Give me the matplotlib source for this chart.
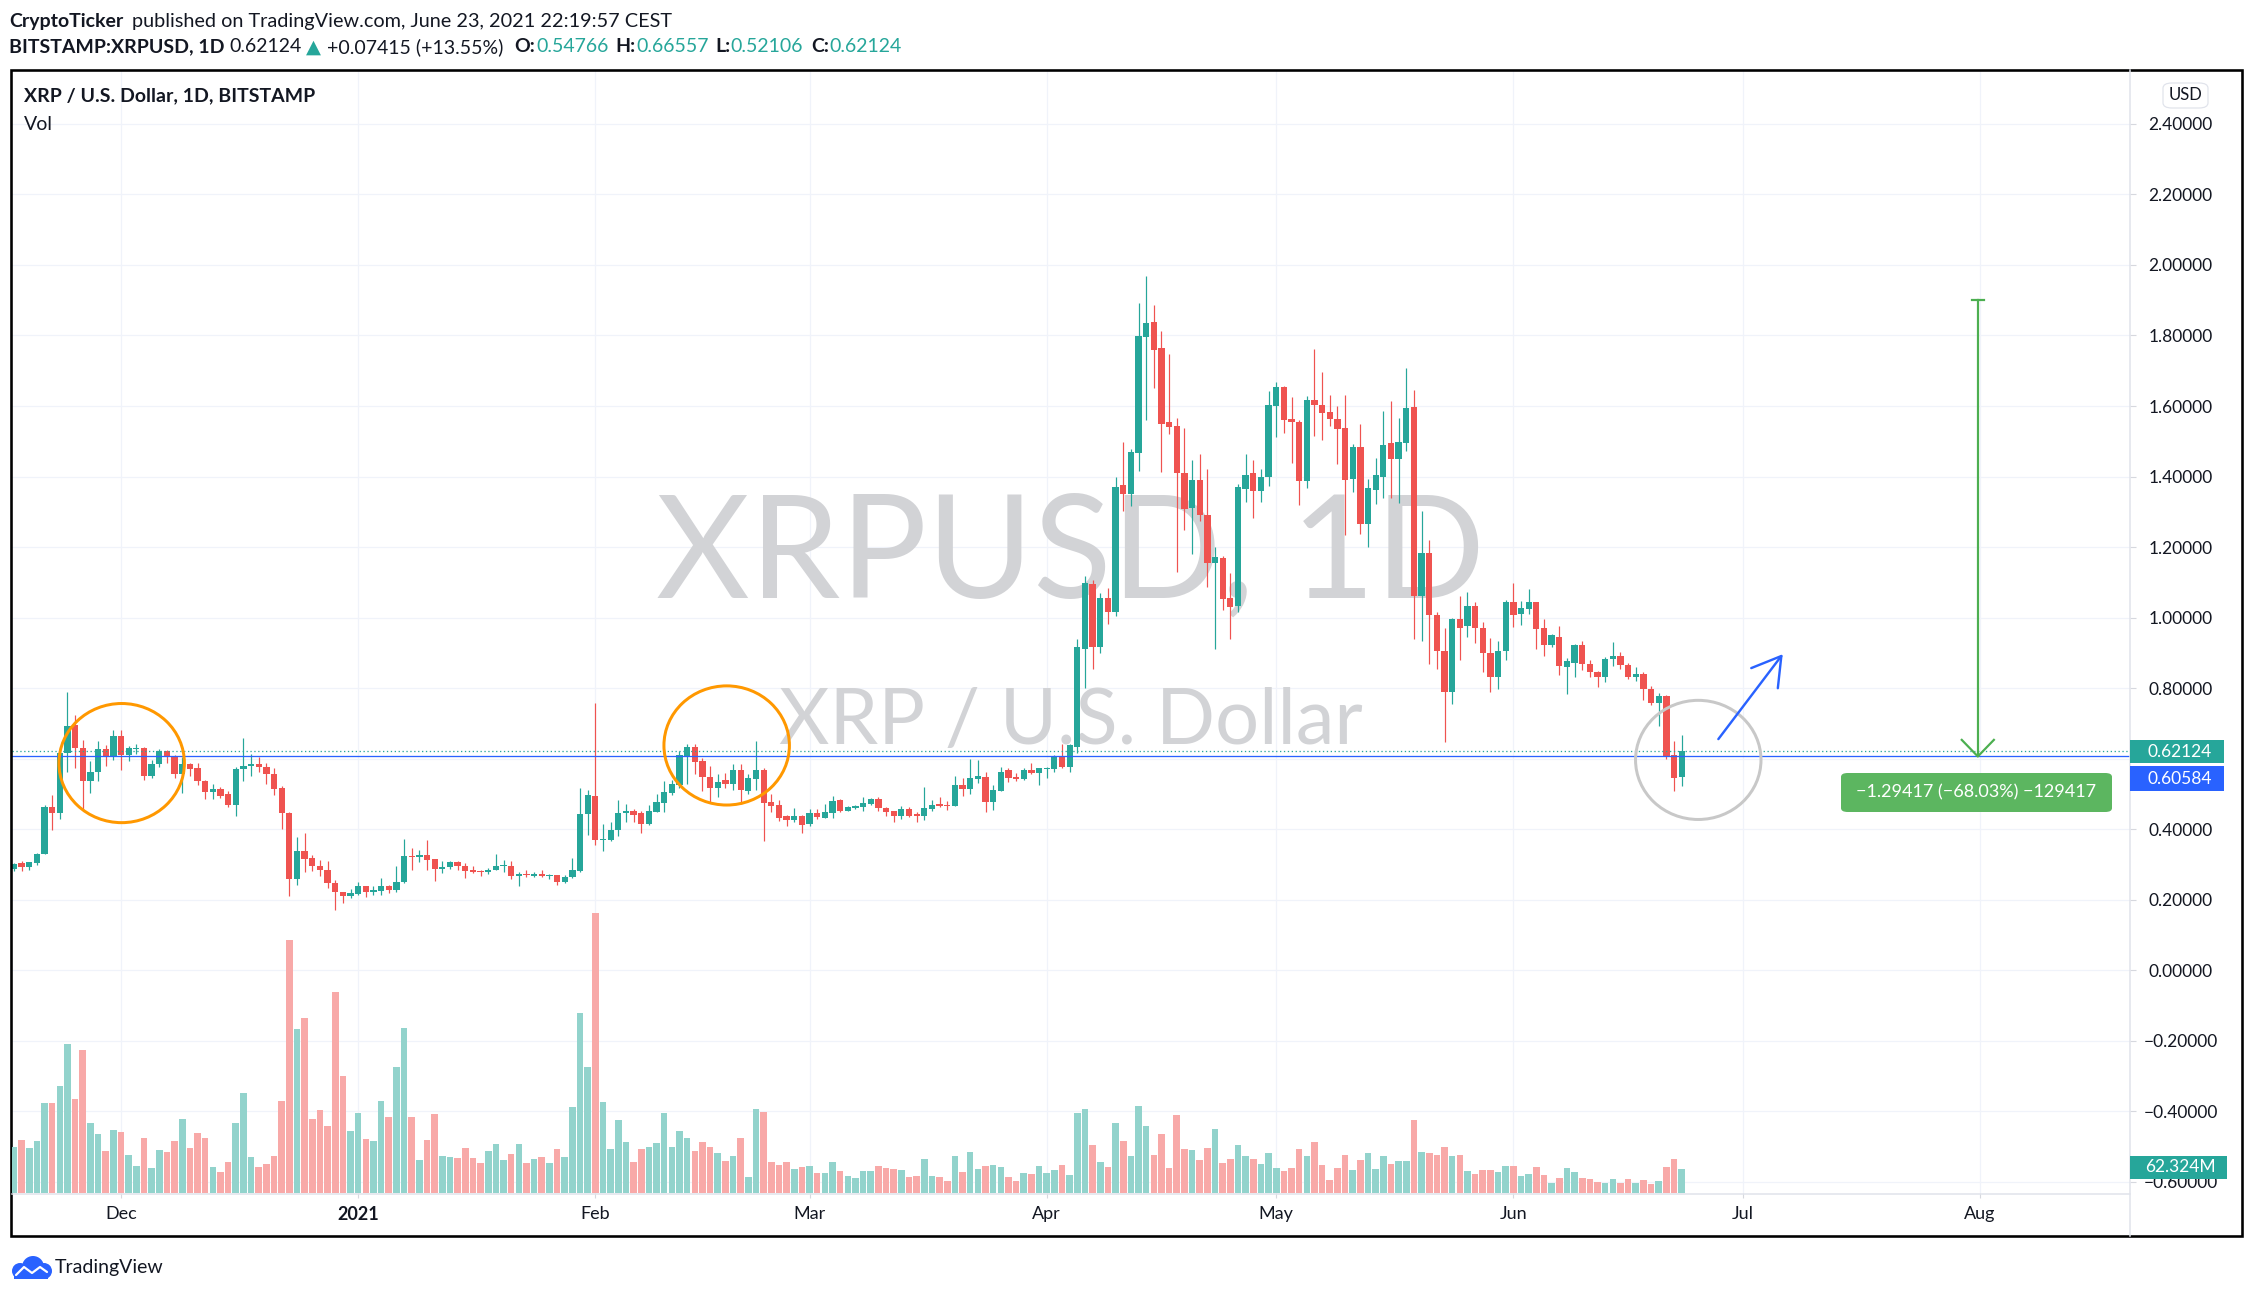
import matplotlib
matplotlib.use("Agg")
import matplotlib.pyplot as plt
import matplotlib.dates as mdates
import numpy as np
import pandas as pd
from matplotlib.patches import Ellipse, FancyBboxPatch, Rectangle, Circle
from matplotlib.lines import Line2D

plt.rcParams["font.family"] = ["Lato", "DejaVu Sans"]

# ---- data: XRPUSD daily candles, Bitstamp, 17 Nov 2020 .. 23 Jun 2021 ----
start_date = "2020-11-17"
opens = [
    .287, .304, .291, .303, .328, .463, .444, .617, .696, .631,
    .535, .561, .628, .603, .665, .609, .628, .631, .551, .583,
    .622, .608, .557, .585, .574, .537, .504, .514, .500, .467,
    .569, .578, .585, .577, .557, .517, .446, .259, .339, .319,
    .296, .285, .248, .222, .209, .217, .239, .220, .223, .237,
    .227, .249, .324, .320, .327, .316, .286, .291, .307, .296,
    .283, .280, .277, .285, .294, .296, .266, .273, .268, .273,
    .266, .270, .249, .264, .282, .443, .494, .370, .370, .396,
    .444, .452, .446, .415, .449, .475, .503, .526, .608, .634,
    .594, .548, .517, .540, .529, .566, .509, .543, .566, .478,
    .469, .438, .426, .438, .415, .446, .432, .446, .483, .452,
    .460, .463, .472, .486, .460, .452, .438, .458, .443, .436,
    .458, .472, .469, .464, .526, .514, .543, .548, .477, .509,
    .566, .548, .543, .566, .560, .569, .569, .608, .577, .634,
    .912, 1.096, .916, 1.056, 1.015, 1.376, 1.351, 1.466, 1.797, 1.838,
    1.764, 1.554, 1.543, 1.410, 1.310, 1.389, 1.292, 1.154, 1.170, 1.054,
    1.034, 1.365, 1.409, 1.358, 1.399, 1.600, 1.653, 1.563, 1.556, 1.387,
    1.616, 1.603, 1.582, 1.564, 1.537, 1.392, 1.483, 1.266, 1.363, 1.398,
    1.494, 1.449, 1.494, 1.597, 1.060, 1.184, 1.007, .904, .790, .997,
    .975, 1.034, .970, .899, .830, .904, 1.043, 1.009, 1.024, 1.045,
    .969, .921, .946, .860, .871, .921, .869, .845, .832, .881,
    .892, .864, .830, .840, .797, .757, .776, .610, .54766,
]
highs = [
    .304, .309, .306, .332, .468, .497, .625, .790, .724, .653,
    .594, .651, .639, .680, .682, .636, .642, .634, .597, .628,
    .625, .611, .605, .588, .588, .538, .529, .520, .509, .577,
    .659, .614, .605, .588, .572, .523, .448, .378, .388, .327,
    .313, .310, .256, .222, .230, .250, .239, .238, .262, .242,
    .296, .373, .347, .341, .370, .316, .310, .310, .310, .304,
    .296, .285, .290, .330, .313, .310, .279, .285, .279, .285,
    .272, .270, .270, .319, .517, .511, .757, .413, .421, .483,
    .472, .458, .452, .469, .500, .537, .540, .622, .642, .642,
    .602, .580, .557, .560, .583, .583, .557, .651, .572, .500,
    .483, .441, .460, .441, .458, .458, .472, .495, .486, .466,
    .469, .492, .489, .492, .463, .452, .466, .463, .449, .520,
    .483, .492, .480, .551, .546, .600, .597, .563, .526, .577,
    .574, .560, .572, .588, .574, .577, .611, .642, .640, .939,
    1.118, 1.106, 1.070, 1.084, 1.399, 1.497, 1.478, 1.893, 1.969, 1.887,
    1.812, 1.747, 1.565, 1.537, 1.447, 1.464, 1.420, 1.199, 1.174, 1.126,
    1.379, 1.465, 1.447, 1.420, 1.642, 1.667, 1.657, 1.625, 1.560, 1.628,
    1.763, 1.696, 1.630, 1.599, 1.630, 1.491, 1.548, 1.393, 1.452, 1.585,
    1.613, 1.565, 1.707, 1.645, 1.301, 1.220, 1.017, .969, 1.000, 1.060,
    1.071, 1.045, .987, .942, .933, 1.051, 1.099, 1.048, 1.080, 1.045,
    .997, .953, .976, .885, .925, .933, .880, .848, .889, .931,
    .903, .872, .860, .844, .807, .785, .781, .651, .66557,
]
lows = [
    .280, .280, .283, .297, .328, .398, .427, .561, .572, .457,
    .501, .535, .580, .595, .566, .592, .614, .540, .546, .577,
    .588, .546, .501, .549, .524, .484, .484, .487, .461, .436,
    .535, .549, .563, .527, .496, .399, .209, .242, .277, .282,
    .266, .232, .169, .189, .203, .214, .207, .214, .214, .218,
    .221, .246, .283, .305, .283, .252, .274, .286, .283, .260,
    .274, .266, .271, .285, .277, .257, .237, .263, .263, .264,
    .257, .242, .246, .260, .277, .384, .356, .339, .366, .379,
    .421, .421, .390, .412, .447, .447, .497, .517, .529, .557,
    .509, .478, .492, .517, .512, .472, .500, .512, .367, .449,
    .423, .409, .421, .390, .409, .429, .432, .432, .449, .452,
    .458, .452, .469, .452, .438, .421, .429, .435, .421, .426,
    .452, .463, .455, .464, .495, .500, .531, .449, .455, .509,
    .532, .537, .540, .557, .526, .546, .563, .572, .563, .616,
    .800, .853, .899, .981, 1.003, 1.303, 1.315, 1.416, 1.561, 1.652,
    1.412, 1.520, 1.129, 1.248, 1.180, 1.273, 1.087, .912, 1.022, .940,
    1.015, 1.329, 1.282, 1.327, 1.374, 1.512, 1.522, 1.437, 1.319, 1.367,
    1.515, 1.503, 1.543, 1.435, 1.234, 1.355, 1.236, 1.200, 1.321, 1.339,
    1.339, 1.325, 1.471, .938, .933, .869, .855, .648, .754, .880,
    .944, .927, .845, .789, .796, .880, .972, .978, 1.009, .912,
    .890, .916, .837, .783, .830, .851, .830, .803, .816, .863,
    .853, .825, .821, .766, .752, .693, .599, .507, .52106,
]
closes = [
    .302, .292, .305, .330, .463, .444, .617, .693, .629, .535,
    .563, .628, .603, .665, .609, .631, .631, .551, .585, .622,
    .603, .557, .583, .571, .535, .504, .514, .495, .467, .571,
    .580, .585, .575, .555, .513, .444, .259, .339, .316, .294,
    .283, .246, .220, .209, .219, .239, .220, .226, .237, .227,
    .251, .324, .320, .327, .313, .286, .293, .307, .294, .280,
    .277, .277, .285, .296, .297, .266, .273, .270, .273, .266,
    .269, .249, .265, .285, .443, .497, .370, .373, .398, .446,
    .452, .441, .415, .452, .478, .506, .529, .611, .634, .591,
    .548, .517, .534, .529, .566, .512, .546, .566, .475, .466,
    .432, .426, .438, .412, .446, .435, .449, .480, .452, .463,
    .466, .475, .486, .460, .449, .438, .458, .438, .438, .460,
    .469, .466, .464, .526, .514, .546, .551, .477, .512, .563,
    .546, .543, .566, .560, .572, .572, .608, .577, .637, .915,
    1.097, .916, 1.056, 1.017, 1.371, 1.351, 1.469, 1.798, 1.835, 1.760,
    1.549, 1.540, 1.410, 1.308, 1.389, 1.290, 1.154, 1.173, 1.053, 1.030,
    1.369, 1.403, 1.358, 1.400, 1.602, 1.653, 1.561, 1.555, 1.387, 1.616,
    1.603, 1.580, 1.562, 1.534, 1.390, 1.483, 1.266, 1.366, 1.403, 1.489,
    1.449, 1.497, 1.593, 1.060, 1.184, 1.007, .904, .790, .997, .970,
    1.034, .970, .899, .830, .904, 1.045, 1.007, 1.026, 1.045, .966,
    .921, .949, .862, .878, .921, .867, .845, .830, .883, .892,
    .864, .830, .840, .797, .757, .776, .604, .545, .62124,
]
volumes_m = [
    120, 138, 117, 135, 234, 234, 278, 387, 244, 371,
    182, 153, 109, 164, 158, 99, 70, 143, 65, 112,
    106, 135, 192, 117, 156, 143, 68, 55, 81, 182,
    260, 94, 68, 75, 96, 239, 657, 426, 455, 192,
    216, 174, 522, 304, 161, 208, 140, 135, 239, 197,
    327, 429, 197, 86, 138, 205, 96, 94, 91, 117,
    91, 78, 109, 127, 86, 101, 127, 78, 88, 94,
    78, 114, 94, 223, 468, 327, 726, 236, 114, 190,
    132, 81, 114, 119, 130, 208, 119, 161, 143, 109,
    132, 119, 104, 83, 96, 143, 42, 218, 210, 81,
    73, 81, 62, 68, 70, 52, 52, 81, 57, 44,
    39, 57, 57, 70, 65, 62, 60, 42, 44, 88,
    44, 42, 31, 96, 55, 106, 62, 70, 73, 68,
    42, 31, 52, 49, 70, 52, 60, 73, 47, 208,
    218, 125, 81, 68, 182, 135, 96, 226, 174, 99,
    153, 65, 203, 114, 112, 86, 117, 166, 78, 88,
    125, 96, 88, 75, 104, 65, 57, 65, 114, 96,
    132, 73, 34, 65, 99, 60, 86, 104, 62, 96,
    75, 83, 83, 190, 106, 104, 99, 119, 96, 99,
    57, 49, 60, 60, 55, 70, 70, 44, 49, 68,
    47, 26, 39, 65, 55, 39, 36, 29, 26, 36,
    26, 36, 26, 34, 23, 31, 68, 88, 62.324,
]

month_ticks = ["2020-12-01", "2021-01-01", "2021-02-01", "2021-03-01", "2021-04-01",
               "2021-05-01", "2021-06-01", "2021-07-01", "2021-08-01"]
month_labels = ["Dec", "2021", "Feb", "Mar", "Apr", "May", "Jun", "Jul", "Aug"]
price_ticks = [2.4, 2.2, 2.0, 1.8, 1.6, 1.4, 1.2, 1.0, 0.8, 0.6, 0.4, 0.2, 0.0, -0.2, -0.4, -0.6]
hidden_tick = 0.6  # covered by the price tags

last_price = 0.62124
line_price = 0.60584
range_change = -1.29417
range_pct = -68.03
range_ticks = -129417
range_date = "2021-07-31 17:00"
arrow_start = ("2021-06-27 19:00", 0.655)
arrow_end = ("2021-07-06 05:00", 0.896)
circles = [("2020-12-01 02:00", 0.587, "#ff9800"),
           ("2021-02-18 04:00", 0.637, "#ff9800"),
           ("2021-06-25 04:00", 0.596, "#c8c8c8")]

TEAL = "#26a69a"
RED = "#ef5350"
TEXT = "#131722"
GRID = "#f0f3fa"
FS = 14

W, H = 2254, 1296
fig = plt.figure(figsize=(W / 100, H / 100), dpi=100)


def fx(px):
    return px / W


def fy(py):
    return 1 - py / H


PT = 0.72  # points per pixel at dpi 100

pane = [fx(12), fy(1193), (2130 - 12) / W, (1193 - 70) / H]
ax = fig.add_axes(pane)
axv = fig.add_axes(pane, zorder=3)
axv.patch.set_alpha(0)

dec1 = mdates.date2num(pd.Timestamp("2020-12-01"))
x_lim = (dec1 - 14.25, dec1 + 262.6)
ax.set_xlim(*x_lim)
axv.set_xlim(*x_lim)
ax.set_ylim(-0.63262, 2.55319)
axv.set_ylim(0, 2916)

dates = pd.date_range(start_date, periods=len(opens), freq="D")
x = mdates.date2num(dates.to_pydatetime())
o = np.array(opens)
h = np.array(highs)
l = np.array(lows)
c = np.array(closes)
up = c >= o
col = np.where(up, TEAL, RED)
vcol = np.where(up, "#92d3cc", "#f8a9a8")

# grid
tick_x = mdates.date2num(pd.to_datetime(month_ticks).to_pydatetime())
for p in price_ticks:
    ax.axhline(p, color=GRID, lw=1.2 * PT, zorder=0.2)
for t in tick_x:
    ax.axvline(t, color=GRID, lw=1.2 * PT, zorder=0.2)

# watermark
ax.text(fx(1071), fy(557), "XRPUSD, 1D", transform=fig.transFigure, ha="center", va="center",
        fontsize=104, color="#d2d3d6", zorder=0.5)
ax.text(fx(1071), fy(722), "XRP / U.S. Dollar", transform=fig.transFigure, ha="center", va="center",
        fontsize=56, color="#d2d3d6", zorder=0.5)

# candles
ax.vlines(x, l, h, colors=col, lw=1.2 * PT, zorder=3)
ax.bar(x, np.maximum(np.abs(c - o), 0.003), bottom=np.minimum(o, c), width=0.82,
       color=col, linewidth=0, zorder=4)

# volume
axv.bar(x, volumes_m, width=0.86, color=vcol, linewidth=0)
axv.axis("off")

# price lines
ax.axhline(last_price, color=TEAL, lw=1.3 * PT, ls=(0, (1, 2)), zorder=5)
ax.axhline(line_price, color="#2962ff", lw=1.3 * PT, zorder=5)

# drawings
for cd, cp, cc in circles:
    ax.add_patch(Ellipse((mdates.date2num(pd.Timestamp(cd)), cp), 16.4, 0.338,
                         fill=False, ec=cc, lw=3 * PT, zorder=6))

rx = mdates.date2num(pd.Timestamp(range_date))
rtop = line_price - range_change
ax.plot([rx, rx], [rtop, line_price], color="#4caf50", lw=2.2 * PT, zorder=6)
ax.plot([rx - 0.8, rx + 0.8], [rtop, rtop], color="#4caf50", lw=2.2 * PT, zorder=6)
ax.plot([rx - 2.1, rx, rx + 2.1], [line_price + 0.047, line_price, line_price + 0.047],
        color="#4caf50", lw=2.2 * PT, zorder=6)

ax.annotate("", xy=(mdates.date2num(pd.Timestamp(arrow_end[0])), arrow_end[1]),
            xytext=(mdates.date2num(pd.Timestamp(arrow_start[0])), arrow_start[1]),
            arrowprops=dict(arrowstyle="->,head_length=0.5,head_width=0.3", color="#2962ff",
                            lw=2.4 * PT, mutation_scale=40, shrinkA=0, shrinkB=0), zorder=6)

# axes styling
for s in ax.spines.values():
    s.set_visible(False)
ax.yaxis.tick_right()
ax.set_yticks(price_ticks)
ax.set_yticklabels(["" if p == hidden_tick else f"{p:.5f}".replace("-", "\u2212")
                    for p in price_ticks])
ax.tick_params(axis="y", length=6 * PT, color="#d6d8de", pad=32, labelsize=12.5, labelcolor=TEXT)
for lab in ax.get_yticklabels():
    lab.set_ha("center")
ax.set_xticks(tick_x)
ax.set_xticklabels(month_labels)
ax.tick_params(axis="x", length=5 * PT, color="#d6d8de", pad=6, labelsize=13, labelcolor=TEXT)
ax.get_xticklabels()[1].set_fontweight("bold")

# separators and frame
fig.add_artist(Line2D([fx(12), fx(2130)], [fy(1193.5), fy(1193.5)], color="#e0e3eb", lw=1.5 * PT))
fig.add_artist(Line2D([fx(2130), fx(2130)], [fy(70), fy(1236)], color="#e0e3eb", lw=1.5 * PT))
fig.add_artist(Rectangle((fx(10.5), fy(1236)), (2242 - 10.5) / W, (1236 - 70) / H,
                         transform=fig.transFigure, fill=False, ec="black", lw=2.6 * PT))


def tag(y0, y1, text, color, x1=2224):
    fig.add_artist(Rectangle((fx(2130), fy(y1)), (x1 - 2130) / W, (y1 - y0) / H,
                             transform=fig.transFigure, fc=color, ec="none", zorder=6))
    fig.text(fx(2180), fy((y0 + y1) / 2), text, color="white", ha="center", va="center",
             fontsize=12.5, zorder=7)


tag(740, 763, f"{last_price:.5f}", TEAL)
tag(766, 791, f"{line_price:.5f}", "#2962ff")
tag(1156, 1179, f"{volumes_m[-1]:.3f}M", TEAL, x1=2227)

fig.add_artist(FancyBboxPatch((fx(2163), fy(108)), 45 / W, 25 / H, transform=fig.transFigure,
                              boxstyle="round,pad=0,rounding_size=0.004", fc="white", ec="#e0e3eb",
                              lw=1.2 * PT))
fig.text(fx(2185.5), fy(95.5), "USD", ha="center", va="center", fontsize=12, color=TEXT)

# range label
fig.add_artist(FancyBboxPatch((fx(1841), fy(812)), (2112 - 1841) / W, (812 - 773) / H,
                              transform=fig.transFigure, boxstyle="round,pad=0,rounding_size=0.003",
                              fc="#5cb660", ec="none", zorder=6))
fig.text(fx(1976.5), fy(792.5),
         f"\u2212{abs(range_change):.5f} (\u2212{abs(range_pct):.2f}%) \u2212{abs(range_ticks)}",
         color="white", ha="center", va="center", fontsize=13, zorder=7)

# header
fig.text(fx(9), fy(21), "CryptoTicker", fontsize=FS, fontweight="bold", color=TEXT, va="center")
fig.text(fx(132), fy(21), "published on TradingView.com, June 23, 2021 22:19:57 CEST",
         fontsize=14.3, color=TEXT, va="center")
runs = [
    (9, "BITSTAMP:XRPUSD, 1D", TEXT, "bold"),
    (229, f"{closes[-1]:.5f}", TEXT, "normal"),
    (306, "\u25b2", TEAL, "normal"),
    (327, "+0.07415 (+13.55%)", TEXT, "normal"),
    (514, "O:", TEXT, "bold"),
    (536, f"{opens[-1]:.5f}", TEAL, "normal"),
    (615, "H:", TEXT, "bold"),
    (636, f"{highs[-1]:.5f}", TEAL, "normal"),
    (715, "L:", TEXT, "bold"),
    (730, f"{lows[-1]:.5f}", TEAL, "normal"),
    (811, "C:", TEXT, "bold"),
    (829, f"{closes[-1]:.5f}", TEAL, "normal"),
]
for px, s, cc, wt in runs:
    fig.text(fx(px), fy(47), s, fontsize=FS, color=cc, fontweight=wt, va="center")

fig.text(fx(24), fy(96), "XRP / U.S. Dollar, 1D, BITSTAMP", fontsize=FS, fontweight="bold",
         color=TEXT, va="center")
fig.text(fx(24), fy(124), "Vol", fontsize=FS, color=TEXT, va="center")

# TradingView logo
lax = fig.add_axes([fx(10), fy(1280), 42 / W, 26 / H])
lax.set_xlim(0, 42)
lax.set_ylim(0, 26)
lax.axis("off")
for cx, cy, r in [(10, 9, 8), (23, 13, 11), (34, 9, 8)]:
    lax.add_patch(Circle((cx, cy), r, fc="#2962ff", ec="none"))
lax.add_patch(Rectangle((4, 1), 34, 8, fc="#2962ff", ec="none"))
lax.plot([6, 14, 22, 30, 37], [5, 13, 7, 13, 8], color="white", lw=2.2 * PT, solid_capstyle="round")
fig.text(fx(55), fy(1267), "TradingView", fontsize=FS, color=TEXT, va="center")

fig.savefig("out.png", dpi=100)
